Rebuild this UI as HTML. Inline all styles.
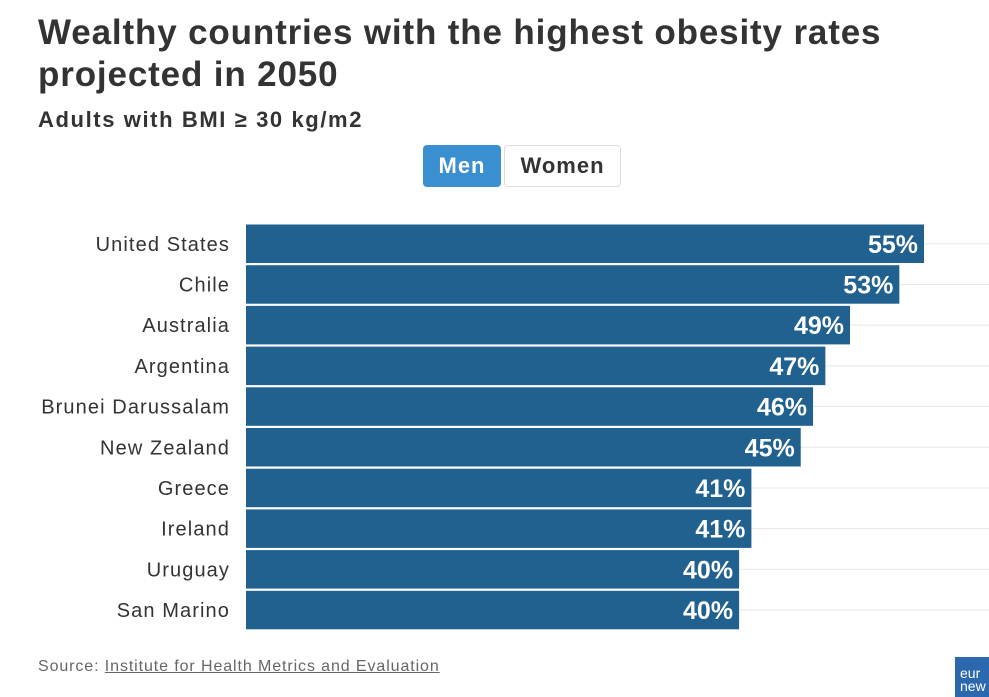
<!DOCTYPE html>
<html><head><meta charset="utf-8"><style>
body{margin:0;width:989px;height:696px;background:#fff;overflow:hidden;font-family:"Liberation Sans",sans-serif;position:relative}
.t{position:absolute;left:38px;top:12px;font-size:35px;font-weight:bold;color:#333;line-height:42px;letter-spacing:0.85px}
.s{position:absolute;left:38px;top:107px;font-size:22px;font-weight:bold;color:#333;letter-spacing:1.6px}
.btn{position:absolute;top:145px;height:42px;box-sizing:border-box;border-radius:4px;font-size:22px;font-weight:bold;line-height:40px;text-align:center}
.src{position:absolute;left:38px;top:658px;font-size:16px;color:#666;letter-spacing:0.9px}
.src u{color:#666}
.logo{position:absolute;left:955px;top:657px;width:40px;height:40px;background:#2c68ad;color:#fff;font-size:14px;line-height:13px;padding:10px 0 0 5px;box-sizing:border-box}
</style></head><body>
<div class="t">Wealthy countries with the highest obesity rates<br>projected in 2050</div>
<div class="s">Adults with BMI ≥ 30 kg/m2</div>
<div class="btn" style="left:423px;width:78px;background:#3a8fd1;color:#fff;border:1px solid #3a8fd1;letter-spacing:1px">Men</div>
<div class="btn" style="left:504px;width:117px;background:#fff;color:#333;border:1px solid #ddd;letter-spacing:1px">Women</div>
<svg id="c" width="989" height="696" style="position:absolute;left:0;top:0"></svg>
<div class="src">Source: <u>Institute for Health Metrics and Evaluation</u></div>
<div class="logo">eur<br>new</div>
<script>
const categories=["United States","Chile","Australia","Argentina","Brunei Darussalam","New Zealand","Greece","Ireland","Uruguay","San Marino"];
const values=[55,53,49,47,46,45,41,41,40,40];
const labels=["55%","53%","49%","47%","46%","45%","41%","41%","40%","40%"];
const svg=document.getElementById('c');
const NS='http://www.w3.org/2000/svg';
const x0=246,pxPer=678/55,top0=224.5,step=40.7,bh=38.5;
const xs=v=>x0+v*pxPer;
const ys=i=>top0+i*step;
categories.forEach((c,i)=>{
  const y=ys(i);
  const g=document.createElementNS(NS,'line');
  g.setAttribute('x1',x0);g.setAttribute('x2',989);g.setAttribute('y1',y+bh/2);g.setAttribute('y2',y+bh/2);
  g.setAttribute('stroke','#e8e8e8');g.setAttribute('stroke-width','1');
  
  
  svg.appendChild(g);
  const r=document.createElementNS(NS,'rect');
  r.setAttribute('x',x0);r.setAttribute('y',y);r.setAttribute('width',xs(values[i])-x0);r.setAttribute('height',bh);
  r.setAttribute('fill','#21618f');
  
  
  svg.appendChild(r);
  const t=document.createElementNS(NS,'text');
  t.setAttribute('x',230);t.setAttribute('y',y+bh/2+7);t.setAttribute('text-anchor','end');
  t.setAttribute('font-size','20');t.setAttribute('letter-spacing','1.1');t.setAttribute('fill','#333');t.setAttribute('font-family','Liberation Sans, sans-serif');
  t.textContent=c;
  
  
  svg.appendChild(t);
  const v=document.createElementNS(NS,'text');
  v.setAttribute('x',xs(values[i])-6);v.setAttribute('y',y+bh/2+9);v.setAttribute('text-anchor','end');
  v.setAttribute('font-size','25');v.setAttribute('font-weight','bold');v.setAttribute('fill','#fff');v.setAttribute('font-family','Liberation Sans, sans-serif');
  v.textContent=labels[i];
  
  
  svg.appendChild(v);
});
</script>
</body></html>
